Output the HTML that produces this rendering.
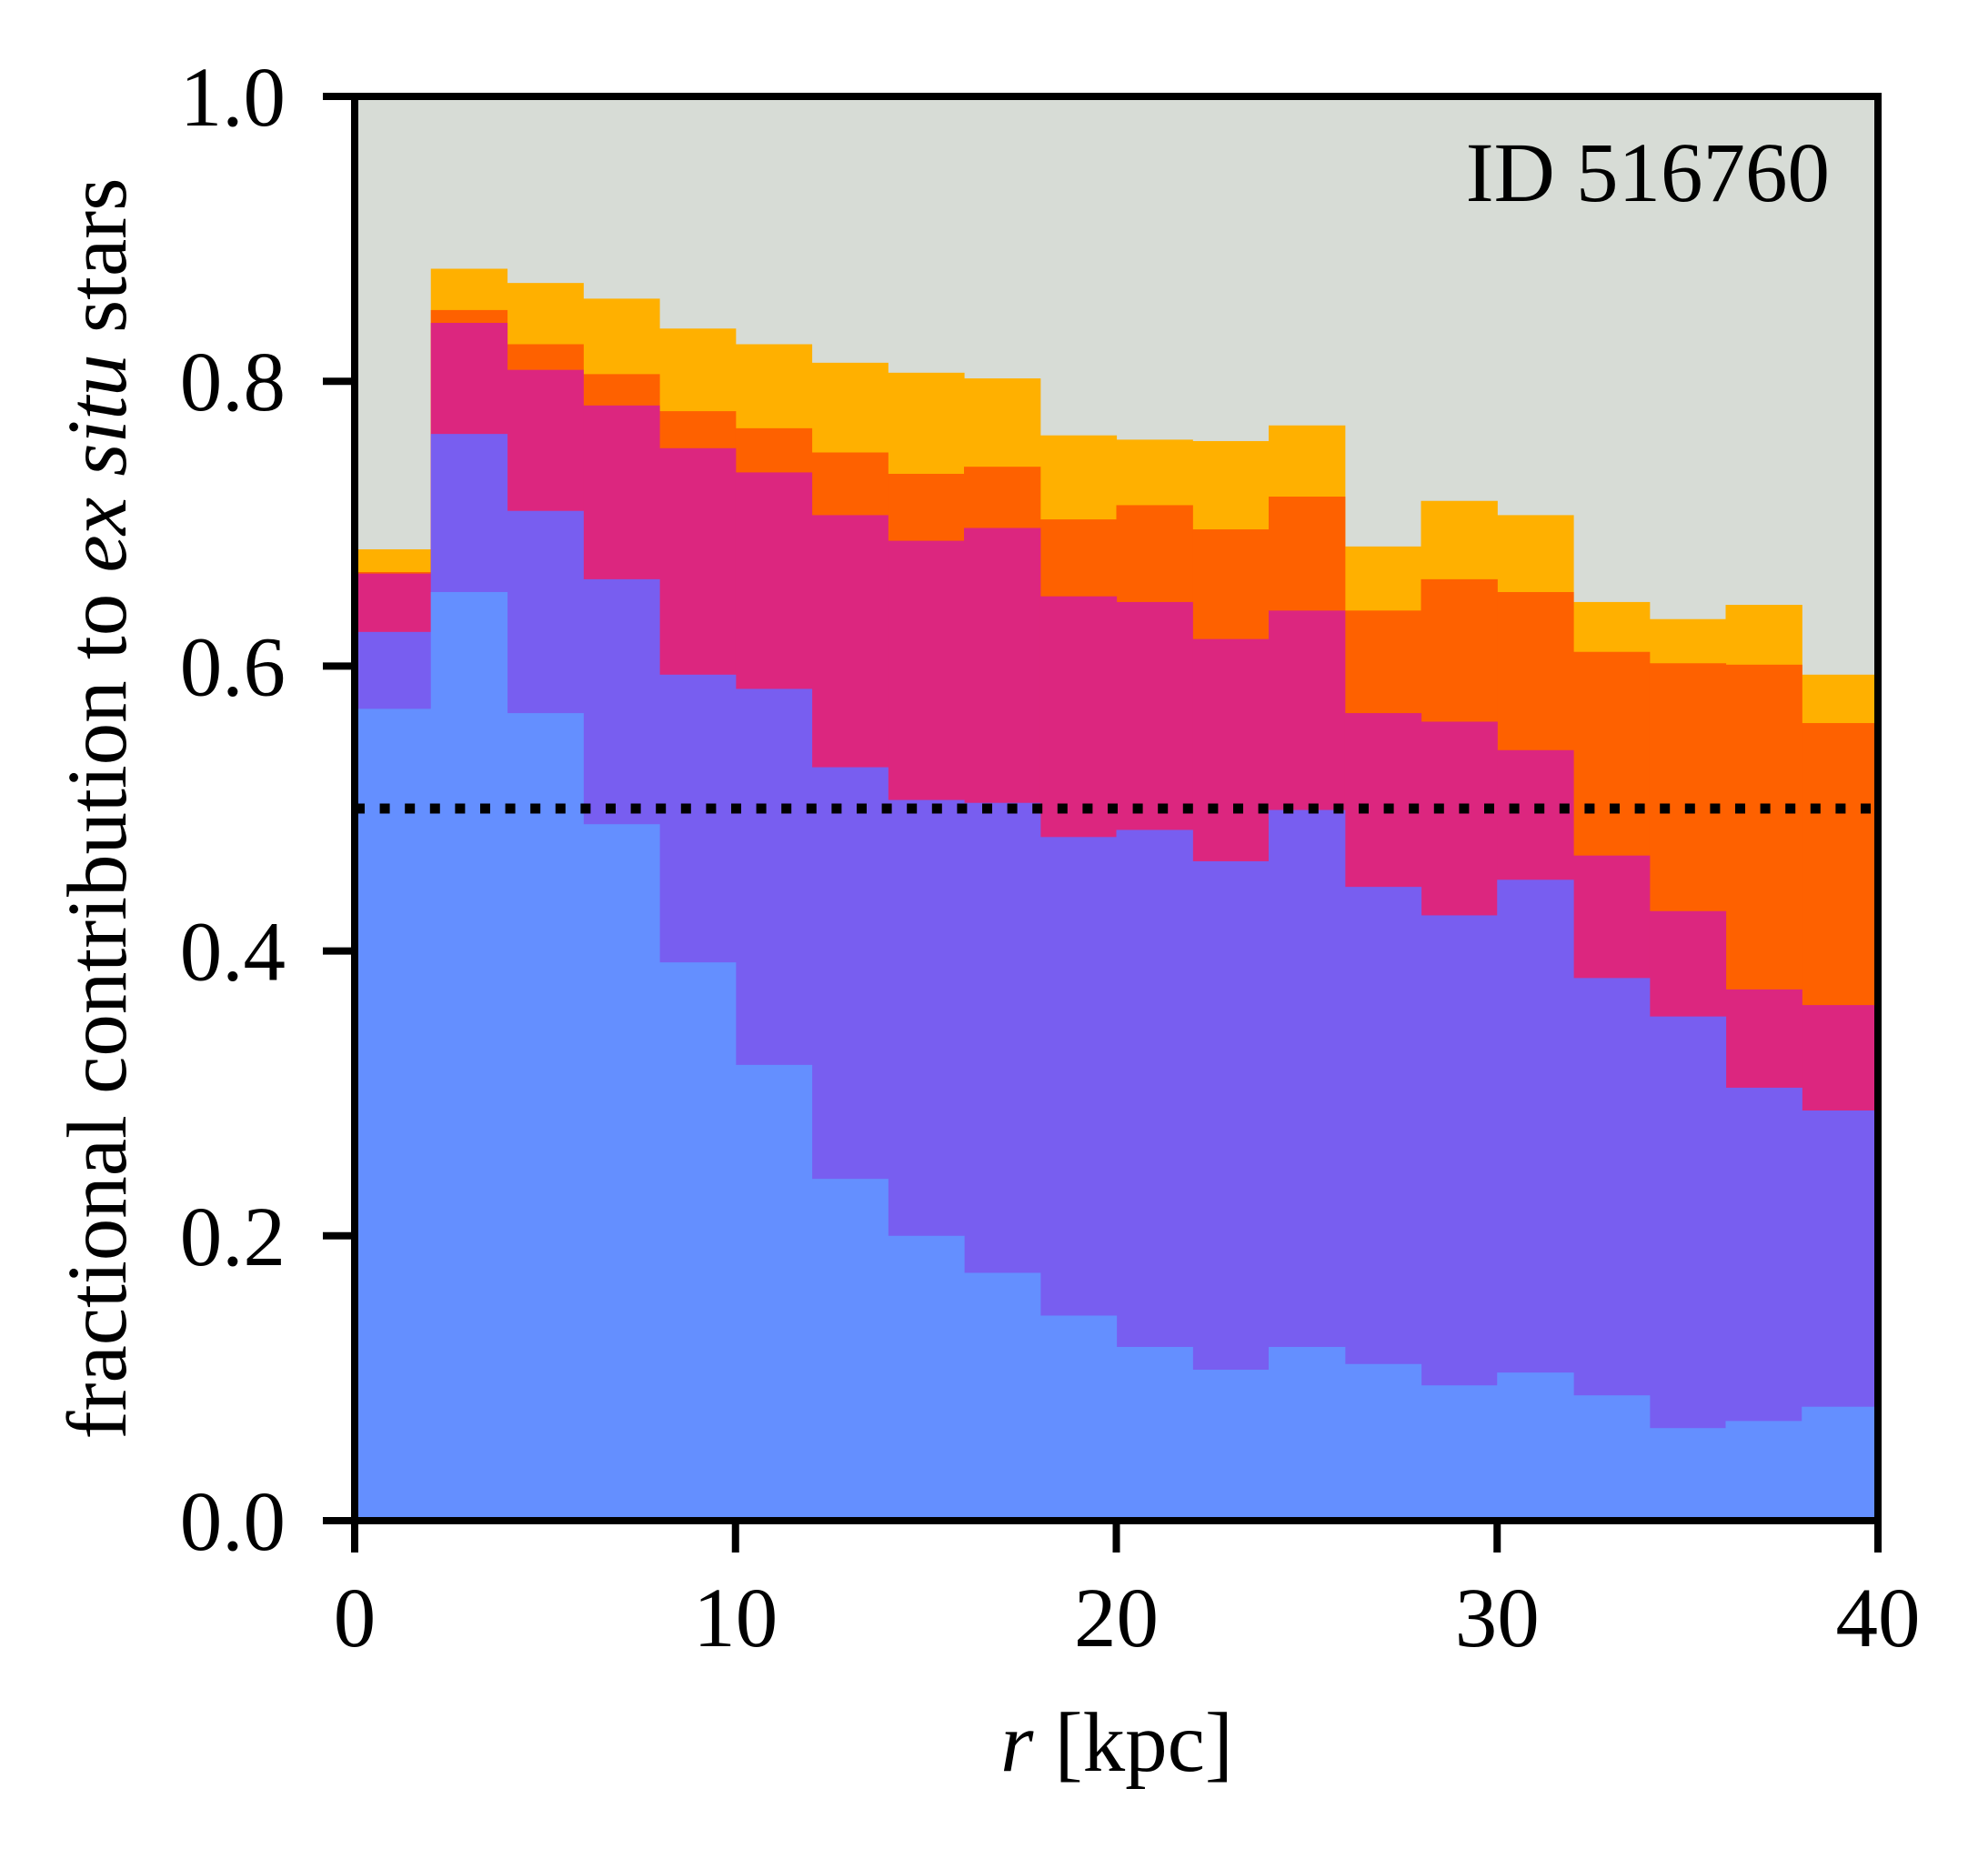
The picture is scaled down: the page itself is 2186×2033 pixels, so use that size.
<!DOCTYPE html>
<html><head><meta charset="utf-8"><style>
html,body{margin:0;padding:0;background:#fff}
svg{display:block}
text{font-family:"Liberation Serif",serif;fill:#000}
</style></head><body>
<svg id="chart" width="2186" height="2033" viewBox="0 0 2186 2033" xmlns="http://www.w3.org/2000/svg">
<rect x="390" y="106" width="1675" height="1566" fill="#D7DCD6"/>
<g id="bars"></g>
<line x1="390" x2="2065" y1="889" y2="889" stroke="#000" stroke-width="11" stroke-dasharray="11 16.6"/>
<rect x="390" y="106" width="1675" height="1566" fill="none" stroke="#000" stroke-width="8"/>
<g id="axes"></g>
<text x="2012" y="221" font-size="93" text-anchor="end">ID 516760</text>
<text x="1228" y="1947" font-size="93" text-anchor="middle"><tspan font-style="italic">r</tspan> [kpc]</text>
<text transform="translate(138,889) rotate(-90)" font-size="93" text-anchor="middle">fractional contribution to <tspan font-style="italic">ex situ</tspan> stars</text>
</svg>
<script>
const binEdgesKpc = [0,2,4,6,8,10,12,14,16,18,20,22,24,26,28,30,32,34,36,38,40];
// cumulative stacked tops per layer (bottom to top)
const cumBlue    = [0.570,0.652,0.567,0.489,0.392,0.320,0.240,0.200,0.174,0.144,0.122,0.106,0.122,0.110,0.095,0.104,0.088,0.065,0.070,0.080];
const cumPurple  = [0.624,0.763,0.709,0.661,0.594,0.584,0.529,0.506,0.504,0.480,0.485,0.463,0.499,0.445,0.425,0.450,0.381,0.354,0.304,0.288];
const cumMagenta = [0.665,0.841,0.808,0.783,0.753,0.736,0.706,0.688,0.697,0.649,0.645,0.619,0.639,0.567,0.561,0.541,0.467,0.428,0.373,0.362];
const cumOrangeR = [0.666,0.850,0.826,0.805,0.779,0.767,0.750,0.735,0.740,0.703,0.713,0.696,0.719,0.639,0.661,0.652,0.610,0.602,0.601,0.560];
const cumOrange  = [0.682,0.879,0.869,0.858,0.837,0.826,0.813,0.806,0.802,0.762,0.759,0.758,0.769,0.684,0.716,0.706,0.645,0.633,0.643,0.594];
const xTicks = [0,10,20,30,40];
const yTicks = [0.0,0.2,0.4,0.6,0.8,1.0];
const yTickLabels = ["0.0","0.2","0.4","0.6","0.8","1.0"];

const X0=390,X1=2065,Y0=1672,Y1=106;
const sx=v=>X0+(v-0)/(40-0)*(X1-X0);
const sy=v=>Y0-(v-0)/(1-0)*(Y0-Y1);
const NS="http://www.w3.org/2000/svg";
const bars=document.getElementById('bars');
const layers=[[cumOrange,'#FFB000','orange'],[cumOrangeR,'#FE6100','orange-red'],[cumMagenta,'#DC267F','magenta'],[cumPurple,'#785EF0','purple'],[cumBlue,'#648FFF','blue']];
layers.forEach(([arr,col,nm])=>{
  for(let i=0;i<arr.length;i++){
    const r=document.createElementNS(NS,'rect');
    const xa=sx(binEdgesKpc[i]), xb=sx(binEdgesKpc[i+1]);
    r.setAttribute('x',xa);r.setAttribute('width',xb-xa+0.6);
    r.setAttribute('y',sy(arr[i]));r.setAttribute('height',Y0-sy(arr[i]));
    r.setAttribute('fill',col);
    
    
    bars.appendChild(r);
  }
});
const axes=document.getElementById('axes');
xTicks.forEach(t=>{
  const l=document.createElementNS(NS,'line');
  l.setAttribute('x1',sx(t));l.setAttribute('x2',sx(t));l.setAttribute('y1',Y0);l.setAttribute('y2',Y0+35);
  l.setAttribute('stroke','#000');l.setAttribute('stroke-width','8');
  
  
  axes.appendChild(l);
  const tx=document.createElementNS(NS,'text');
  tx.setAttribute('x',sx(t));tx.setAttribute('y',1810);tx.setAttribute('font-size','93');tx.setAttribute('text-anchor','middle');
  tx.textContent=String(t);
  
  
  axes.appendChild(tx);
});
yTicks.forEach((t,i)=>{
  const l=document.createElementNS(NS,'line');
  l.setAttribute('x1',X0-35);l.setAttribute('x2',X0);l.setAttribute('y1',sy(t));l.setAttribute('y2',sy(t));
  l.setAttribute('stroke','#000');l.setAttribute('stroke-width','8');
  
  
  axes.appendChild(l);
  const tx=document.createElementNS(NS,'text');
  tx.setAttribute('x',314);tx.setAttribute('y',sy(t)+32);tx.setAttribute('font-size','93');tx.setAttribute('text-anchor','end');
  tx.textContent=yTickLabels[i];
  
  
  axes.appendChild(tx);
});
</script>
</body></html>
